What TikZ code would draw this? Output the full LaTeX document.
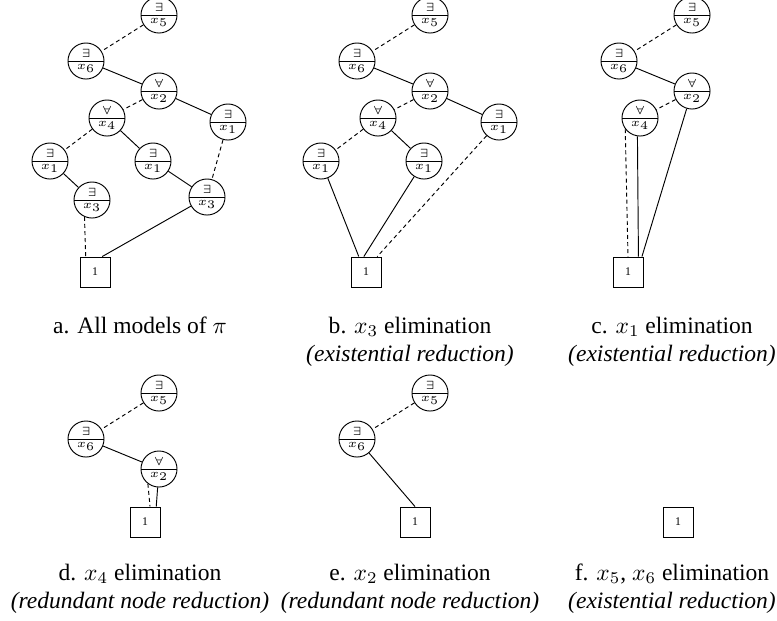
\documentclass[tikz,border=0pt]{standalone}
\usepackage{fontspec}
\setmainfont{Liberation Serif}
\usetikzlibrary{shapes.multipart}
\tikzset{
  qbf var/.style={circle split, draw, line width=0.4pt, minimum size=12.75pt, inner xsep=0.5pt, inner ysep=1.2pt, font=\tiny},
  qbf leaf/.style={rectangle, draw, line width=0.4pt, minimum size=12.75pt, inner sep=0pt, font=\tiny},
  qbf hi/.style={draw, line width=0.4pt},
  qbf lo/.style={draw, line width=0.4pt, dash pattern=on 1.7pt off 1.3pt},
  qbf caption/.style={anchor=base, inner sep=0pt},
}

\begin{document}
\begin{tikzpicture}[x=0.425pt, y=-0.425pt]
  \useasboundingbox (0,0) rectangle (777,620);
  % top of the diagram, the same in a-d: x5, x6, x2
  \foreach \p/\dx/\dy in {a/0/0, b/271/0, c/533/0, d/0/378} {
    \node[qbf var] (\p5) at (159+\dx,15+\dy) {$\exists$\nodepart{lower}$x_5$};
    \node[qbf var] (\p6) at (86+\dx,61+\dy) {$\exists$\nodepart{lower}$x_6$};
    \node[qbf var] (\p2) at (159+\dx,91+\dy) {$\forall$\nodepart{lower}$x_2$};
    \draw[qbf lo] (\p5) -- (\p6);
    \draw[qbf hi] (\p6) -- (\p2);
  }

  % a. all models
  \node[qbf var] (a4) at (107,118) {$\forall$\nodepart{lower}$x_4$};
  \node[qbf var] (a1r) at (228,122) {$\exists$\nodepart{lower}$x_1$};
  \node[qbf var] (a1l) at (50,161) {$\exists$\nodepart{lower}$x_1$};
  \node[qbf var] (a1m) at (153,161) {$\exists$\nodepart{lower}$x_1$};
  \node[qbf var] (a3l) at (92,200) {$\exists$\nodepart{lower}$x_3$};
  \node[qbf var] (a3r) at (207,197) {$\exists$\nodepart{lower}$x_3$};
  \node[qbf leaf] (a0) at (95,272) {1};
  \draw[qbf lo] (a2) -- (a4);
  \draw[qbf hi] (a2) -- (a1r);
  \draw[qbf lo] (a4) -- (a1l);
  \draw[qbf hi] (a4) -- (a1m);
  \draw[qbf hi] (a1l) -- (a3l);
  \draw[qbf hi] (a1m) -- (a3r);
  \draw[qbf lo] (a1r) -- (a3r);
  \draw[qbf lo] (a3l.246) -- (a0.121);
  \draw[qbf hi] (a3r) -- (a0.65);

  % b. x3 eliminated
  \node[qbf var] (b4) at (378,118) {$\forall$\nodepart{lower}$x_4$};
  \node[qbf var] (b1r) at (499,122) {$\exists$\nodepart{lower}$x_1$};
  \node[qbf var] (b1l) at (321,161) {$\exists$\nodepart{lower}$x_1$};
  \node[qbf var] (b1m) at (424,161) {$\exists$\nodepart{lower}$x_1$};
  \node[qbf leaf] (b0) at (366,272) {1};
  \draw[qbf lo] (b2) -- (b4);
  \draw[qbf hi] (b2) -- (b1r);
  \draw[qbf lo] (b4) -- (b1l);
  \draw[qbf hi] (b4) -- (b1m);
  \draw[qbf hi] (b1l) -- (b0.115);
  \draw[qbf hi] (b1m) -- (b0.98);
  \draw[qbf lo] (b1r) -- (b0.54);

  % c. x1 eliminated
  \node[qbf var] (c4) at (640,118) {$\forall$\nodepart{lower}$x_4$};
  \node[qbf leaf] (c0) at (628,272) {1};
  \draw[qbf lo] (c2) -- (c4);
  \draw[qbf lo] (c4.217) -- (c0.north);
  \draw[qbf hi] (c4.262) -- (c0.56);
  \draw[qbf hi] (c2) -- (c0.48);

  % d. x4 eliminated
  \node[qbf leaf] (d0) at (145,522) {1};
  \draw[qbf lo] (d2.233) -- (d0.72);
  \draw[qbf hi] (d2) -- (d0.54);

  % e. x2 eliminated
  \node[qbf var] (e5) at (430,393) {$\exists$\nodepart{lower}$x_5$};
  \node[qbf var] (e6) at (357,439) {$\exists$\nodepart{lower}$x_6$};
  \node[qbf leaf] (e0) at (415,522) {1};
  \draw[qbf lo] (e5) -- (e6);
  \draw[qbf hi] (e6) -- (e0.north);

  % f. x5, x6 eliminated
  \node[qbf leaf] (f0) at (678,522) {1};

  % captions
  \node[qbf caption] (capa) at (140,333) {a. All models of $\pi$};
  \node[qbf caption] (capb) at (410,333) {b. $x_3$ elimination};
  \node[qbf caption] (capbr) at (410,361) {\textit{(existential reduction)}};
  \node[qbf caption] (capc) at (672,333) {c. $x_1$ elimination};
  \node[qbf caption] (capcr) at (672,361) {\textit{(existential reduction)}};
  \node[qbf caption] (capd) at (140,580) {d. $x_4$ elimination};
  \node[qbf caption] (capdr) at (140,608) {\textit{(redundant node reduction)}};
  \node[qbf caption] (cape) at (410,580) {e. $x_2$ elimination};
  \node[qbf caption] (caper) at (410,608) {\textit{(redundant node reduction)}};
  \node[qbf caption] (capf) at (672,580) {f. $x_5$, $x_6$ elimination};
  \node[qbf caption] (capfr) at (672,608) {\textit{(existential reduction)}};
\end{tikzpicture}
\end{document}
